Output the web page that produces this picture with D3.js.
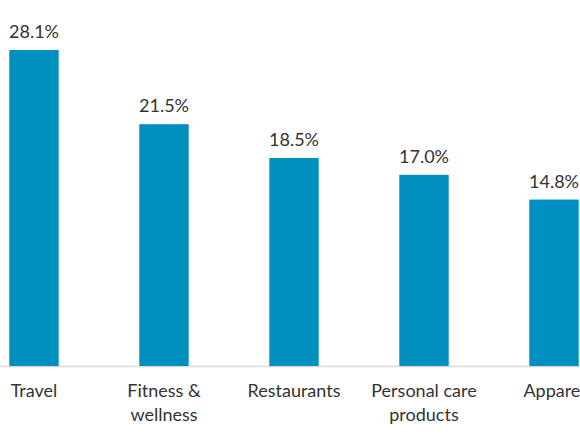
<!DOCTYPE html>
<html>
<head>
<meta charset="utf-8">
<script src="https://cdn.jsdelivr.net/npm/d3@7"></script>
<style>
  body { margin: 0; background: #fff; }
  svg { display: block; }
  text { font-family: Lato, "Open Sans", sans-serif; fill: #333; }
</style>
</head>
<body>
<div id="chart"></div>
<script>
// data
var categories = ["Travel", "Fitness & wellness", "Restaurants", "Personal care products", "Apparel"];
var shares = [28.1, 21.5, 18.5, 17.0, 14.8];
var labelLines = [["Travel"], ["Fitness &", "wellness"], ["Restaurants"], ["Personal care", "products"], ["Apparel"]];

var W = 580, H = 435;
var baseY = 366;

var svg = d3.select("#chart")
  .append("svg")
    .attr("width", W)
    .attr("height", H);

// x scale: the chart is cropped on the right, band step 130
var x = d3.scaleBand()
  .domain(categories)
  .range([-31, 619])
  .paddingInner(0.62)
  .paddingOuter(0.31);

var y = d3.scaleLinear()
  .domain([0, 28.1])
  .range([baseY, 50]);

// baseline
svg.append("line")
  .attr("x1", 0).attr("x2", W)
  .attr("y1", baseY + 0.5).attr("y2", baseY + 0.5)
  .attr("stroke", "#d9d9d9")
  .attr("stroke-width", 1.5);

// bars
svg.selectAll("rect.bar")
  .data(shares)
  .enter()
  .append("rect")
    .attr("class", "bar")
    .attr("x", function(d, i) { return x(categories[i]); })
    .attr("width", x.bandwidth())
    .attr("y", function(d) { return y(d); })
    .attr("height", function(d) { return baseY - y(d); })
    .attr("fill", "#008fbf");

// value labels
svg.selectAll("text.val")
  .data(shares)
  .enter()
  .append("text")
    .attr("class", "val")
    .attr("x", function(d, i) { return x(categories[i]) + x.bandwidth() / 2; })
    .attr("y", function(d) { return y(d) - 12; })
    .attr("text-anchor", "middle")
    .style("font-size", "18px")
    .text(function(d) { return d.toFixed(1) + "%"; });

// category labels
var cat = svg.selectAll("text.cat")
  .data(labelLines)
  .enter()
  .append("text")
    .attr("class", "cat")
    .attr("text-anchor", "middle")
    .style("font-size", "18px");

cat.selectAll("tspan")
  .data(function(d, i) { return d.map(function(s) { return { s: s, i: i }; }); })
  .enter()
  .append("tspan")
    .attr("x", function(d) { return x(categories[d.i]) + x.bandwidth() / 2; })
    .attr("y", function(d, j) { return 397 + j * 24; })
    .text(function(d) { return d.s; });
</script>
</body>
</html>
